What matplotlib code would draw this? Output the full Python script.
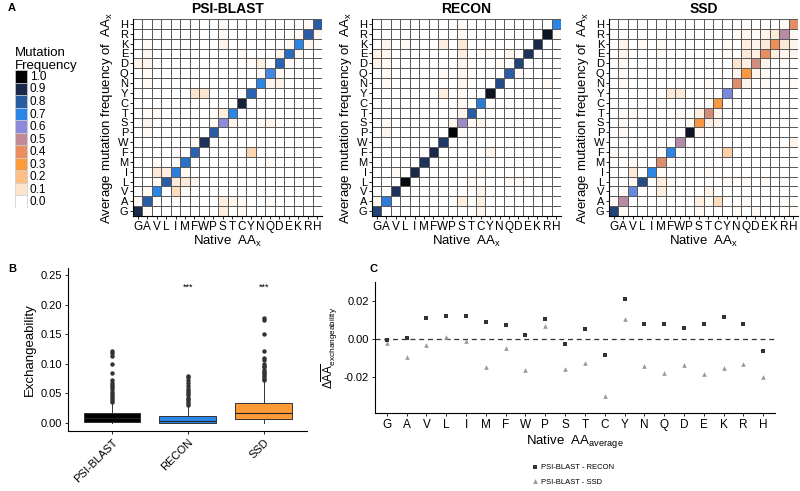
"""Mutation frequency heatmaps, exchangeability boxplot and per-residue differences."""

import matplotlib

matplotlib.use("Agg")
import numpy as np  # noqa: E402
from matplotlib import pyplot as plt  # noqa: E402
from matplotlib.colors import LinearSegmentedColormap  # noqa: E402
from matplotlib.lines import Line2D  # noqa: E402
from matplotlib.patches import Rectangle  # noqa: E402

plt.rcParams["font.family"] = ["Liberation Sans", "DejaVu Sans"]
plt.rcParams["mathtext.fontset"] = "custom"
plt.rcParams["mathtext.rm"] = "Liberation Sans"
plt.rcParams["mathtext.it"] = "Liberation Sans:italic"

amino_acids = list("GAVLIMFWPSTCYNQDEKRH")
methods = ["PSI-BLAST", "RECON", "SSD"]

# diagonal (self-substitution) frequencies, native order G..H
diag_psiblast = [0.90, 0.80, 0.70, 0.80, 0.72, 0.75, 0.78, 0.88, 0.80, 0.60,
                 0.70, 0.92, 0.78, 0.70, 0.67, 0.78, 0.76, 0.70, 0.80, 0.80]
diag_recon = [0.85, 0.72, 0.88, 0.98, 0.90, 0.88, 0.90, 0.87, 0.99, 0.57,
              0.80, 0.73, 0.95, 0.83, 0.80, 0.85, 0.88, 0.90, 0.95, 0.70]
diag_ssd = [0.85, 0.52, 0.64, 0.83, 0.70, 0.43, 0.70, 0.53, 0.95, 0.33,
            0.45, 0.32, 0.62, 0.42, 0.32, 0.46, 0.40, 0.38, 0.52, 0.42]

# off-diagonal frequencies, one string per mutant row (G bottom .. H top),
# columns are native G..H, each digit d means d * 0.02, X is the diagonal
offdiag_psiblast = [
    "X1000000030100000000",
    "1X001000032100100000",
    "01X06100000000000000",
    "001X4420000000000000",
    "0043X100000000000000",
    "00101X00000000100000",
    "000010X0000070000000",
    "0000001X000000000000",
    "01000000X00000000000",
    "020000001X2001200000",
    "0110000003X000000000",
    "00000000000X00000000",
    "000000550000X0000000",
    "0100000000000X220000",
    "01000000000001X10000",
    "220000000000130X1000",
    "0200000000010002X100",
    "01000000020000001X20",
    "000000000100000001X2",
    "0000000001000000001X",
]
offdiag_recon = [
    "X0000000000200000000",
    "1X000000030300000000",
    "00X00000000200000000",
    "000X0000001000110000",
    "0010X000000100000000",
    "00000X00000000000000",
    "000000X0000020000000",
    "0000000X000000000000",
    "02000000X10000000000",
    "010000002X1200000000",
    "0000000002X000000000",
    "00000000010X00000000",
    "000000030100X0000000",
    "0100000002000X000010",
    "01000001020000X10000",
    "210000000200010X0001",
    "2200000003001020X000",
    "02010003040000000X00",
    "000000000100000000X1",
    "0000000001000000000X",
]
offdiag_ssd = [
    "X1000000010001010001",
    "1X000000031600100010",
    "01X00300002000000000",
    "001X0310000010101010",
    "0040X100001000000000",
    "00100X10000000000000",
    "100000X0000080000000",
    "0000000X000000000002",
    "01000000X10000000000",
    "010000001X3200000000",
    "0110000103X200000000",
    "00000000001X00000000",
    "000000440000X0000000",
    "0100000000100X201001",
    "01000000000002X21000",
    "010000000000053X2010",
    "0200010000001043X322",
    "02010100000010324X42",
    "000000000000012124X1",
    "0000000000000000001X",
]

legend_levels = [1.0, 0.9, 0.8, 0.7, 0.6, 0.5, 0.4, 0.3, 0.2, 0.1, 0.0]

# boxplot summary of exchangeability
box_median = [0.008, 0.004, 0.0173]
box_q1 = [0.0017, 0.0, 0.0067]
box_q3 = [0.0168, 0.0122, 0.033]
box_whishi = [0.034, 0.027, 0.072]
box_whislo = [0.0, 0.0, 0.0]
fliers_psiblast = [0.121, 0.118, 0.114, 0.100, 0.085, 0.072, 0.068, 0.065, 0.061,
                   0.057, 0.053, 0.049, 0.045, 0.042, 0.039, 0.036]
fliers_recon = [0.080, 0.077, 0.073, 0.068, 0.063, 0.057, 0.054, 0.050, 0.047,
                0.043, 0.040, 0.037, 0.034, 0.030]
fliers_ssd = [0.177, 0.174, 0.151, 0.122, 0.110, 0.106, 0.100, 0.097, 0.094,
              0.090, 0.087, 0.084, 0.081, 0.078, 0.075, 0.073]
box_colors = ["#000000", "#2b86e8", "#fd9a38"]

# mean exchangeability differences per native residue
diff_recon = [-0.0005, 0.0007, 0.0109, 0.0120, 0.0120, 0.0093, 0.0075, 0.0020,
              0.0105, -0.0026, 0.0054, -0.0084, 0.0210, 0.0079, 0.0079, 0.0060,
              0.0079, 0.0119, 0.0079, -0.0061]
diff_ssd = [-0.0018, -0.0091, -0.0030, 0.0014, -0.0010, -0.0146, -0.0046, -0.0162,
            0.0070, -0.0158, -0.0123, -0.0296, 0.0105, -0.0142, -0.0174, -0.0137,
            -0.0182, -0.0151, -0.0128, -0.0198]

cmap = LinearSegmentedColormap.from_list(
    "mutfreq",
    [
        (0.0, "#ffffff"),
        (0.1, "#fde3cc"),
        (0.2, "#fdbf85"),
        (0.3, "#fd9a38"),
        (0.4, "#e98e5e"),
        (0.5, "#c48a94"),
        (0.6, "#8b8bd9"),
        (0.7, "#2b86e8"),
        (0.8, "#2a5ca3"),
        (0.9, "#1b2a4b"),
        (1.0, "#000000"),
    ],
)

W, H = 800, 491


def fig_rect(left, top, right, bottom):
    return [left / W, 1 - bottom / H, (right - left) / W, (bottom - top) / H]


def build_matrix(rows, diag):
    matrix = np.zeros((20, 20))
    for r, row in enumerate(rows):
        for c, ch in enumerate(row):
            matrix[r, c] = diag[r] if ch == "X" else int(ch) * 0.02
    return matrix


fig = plt.figure(figsize=(W / 100, H / 100), dpi=100)

heat_data = [
    build_matrix(offdiag_psiblast, diag_psiblast),
    build_matrix(offdiag_recon, diag_recon),
    build_matrix(offdiag_ssd, diag_ssd),
]
heat_left = [133, 372, 609]
for title, left, matrix in zip(methods, heat_left, heat_data):
    ax = fig.add_axes(fig_rect(left, 19, left + 189, 216))
    ax.pcolormesh(np.arange(21), np.arange(21), matrix, cmap=cmap, vmin=0, vmax=1,
                  edgecolors="#5a5a5a", linewidth=0.6)
    ax.set_xlim(0, 20)
    ax.set_ylim(0, 20)
    ax.set_xticks(np.arange(20) + 0.5, amino_acids, fontsize=8.5)
    ax.set_yticks(np.arange(20) + 0.5, amino_acids, fontsize=8)
    ax.tick_params(length=2, width=0.6, pad=1.5)
    for side in ("top", "right"):
        ax.spines[side].set_visible(False)
    ax.spines["left"].set_linewidth(0.8)
    ax.spines["bottom"].set_linewidth(0.8)
    ax.set_title(title, fontsize=10, fontweight="bold", pad=4)
    ax.set_xlabel(r"Native  AA$_{\rm x}$", fontsize=9.5, labelpad=1)
    ax.set_ylabel(r"Average mutation frequency of  AA$_{\rm x}$", fontsize=9.5,
                  labelpad=2)

# colour legend
fig.text(15 / W, 1 - 47 / H, "Mutation\nFrequency", fontsize=9.5, va="top",
         linespacing=1.1)
leg_ax = fig.add_axes(fig_rect(15, 70, 60, 208))
leg_ax.set_xlim(0, 1)
leg_ax.set_ylim(len(legend_levels), 0)
leg_ax.axis("off")
for i, level in enumerate(legend_levels):
    leg_ax.add_patch(Rectangle((0, i), 0.27, 1, facecolor=cmap(level),
                               edgecolor="#cccccc", linewidth=0.5))
    leg_ax.text(0.33, i + 0.55, f"{level:.1f}", fontsize=8.5, va="center")

# panel B
axb = fig.add_axes(fig_rect(68, 268, 307, 431))
stats = []
for i, fl in enumerate([fliers_psiblast, fliers_recon, fliers_ssd]):
    stats.append({"med": box_median[i], "q1": box_q1[i], "q3": box_q3[i],
                  "whislo": box_whislo[i], "whishi": box_whishi[i], "fliers": fl})
bp = axb.bxp(stats, positions=[1, 2, 3], widths=0.75, patch_artist=True,
             boxprops={"linewidth": 0.7, "edgecolor": "#333333"},
             medianprops={"color": "#222222", "linewidth": 0.8},
             whiskerprops={"color": "#333333", "linewidth": 0.7},
             capprops={"linewidth": 0},
             flierprops={"marker": "o", "markersize": 3.2,
                         "markerfacecolor": "#333333", "markeredgecolor": "none"})
for patch, color in zip(bp["boxes"], box_colors):
    patch.set_facecolor(color)
axb.set_xlim(0.42, 3.57)
axb.set_ylim(-0.0135, 0.262)
axb.set_yticks([0.0, 0.05, 0.10, 0.15, 0.20, 0.25])
axb.set_yticklabels(["0.00", "0.05", "0.10", "0.15", "0.20", "0.25"], fontsize=8)
axb.set_xticks([1, 2, 3])
axb.set_xticklabels(methods, rotation=45, ha="right", rotation_mode="anchor",
                    fontsize=8)
axb.tick_params(length=2.5, width=0.6, pad=2)
axb.set_ylabel("Exchangeability", fontsize=9.5, labelpad=3)
for side in ("top", "right"):
    axb.spines[side].set_visible(False)
for pos in (2, 3):
    axb.text(pos, 0.229, "***", ha="center", va="center", fontsize=6.5)

# panel C
axc = fig.add_axes(fig_rect(375, 282, 775, 413))
xpos = np.arange(len(amino_acids))
axc.axhline(0, color="#333333", linestyle=(0, (4, 3)), linewidth=0.9, zorder=1)
axc.scatter(xpos, diff_recon, marker="s", s=9, color="#333333", linewidths=0,
            zorder=3, label="PSI-BLAST - RECON")
axc.scatter(xpos, diff_ssd, marker="^", s=11, color="#999999", linewidths=0,
            zorder=2, label="PSI-BLAST - SSD")
axc.set_xlim(-0.6, 19.6)
axc.set_ylim(-0.0386, 0.030)
axc.set_xticks(xpos, amino_acids, fontsize=8.5)
axc.set_yticks([-0.02, 0.0, 0.02], ["-0.02", "0.00", "0.02"], fontsize=8)
axc.tick_params(length=2.5, width=0.6, pad=2)
axc.set_xlabel(r"Native  AA$_{\rm average}$", fontsize=9.5, labelpad=1)
axc.set_ylabel(r"$\Delta\overline{\rm AA}_{\rm exchangeability}$", fontsize=8.5,
               labelpad=3)
for side in ("top", "right"):
    axc.spines[side].set_visible(False)

handles = [
    Line2D([], [], marker="s", linestyle="none", markersize=3, color="#333333",
           markeredgewidth=0),
    Line2D([], [], marker="^", linestyle="none", markersize=3.5, color="#999999",
           markeredgewidth=0),
]
fig.legend(handles, ["PSI-BLAST - RECON", "PSI-BLAST - SSD"], loc="upper left",
           bbox_to_anchor=(530 / W, 1 - 464 / H), frameon=False, fontsize=5.5,
           handletextpad=0.3, labelspacing=0.9, handlelength=1.2,
           borderaxespad=0, borderpad=0)

for label, x, y in [("A", 8, 3), ("B", 8, 264), ("C", 370, 264)]:
    fig.text(x / W, 1 - y / H, label, fontsize=8, fontweight="bold", va="top")

fig.savefig("out.png", dpi=100)
plt.close(fig)
